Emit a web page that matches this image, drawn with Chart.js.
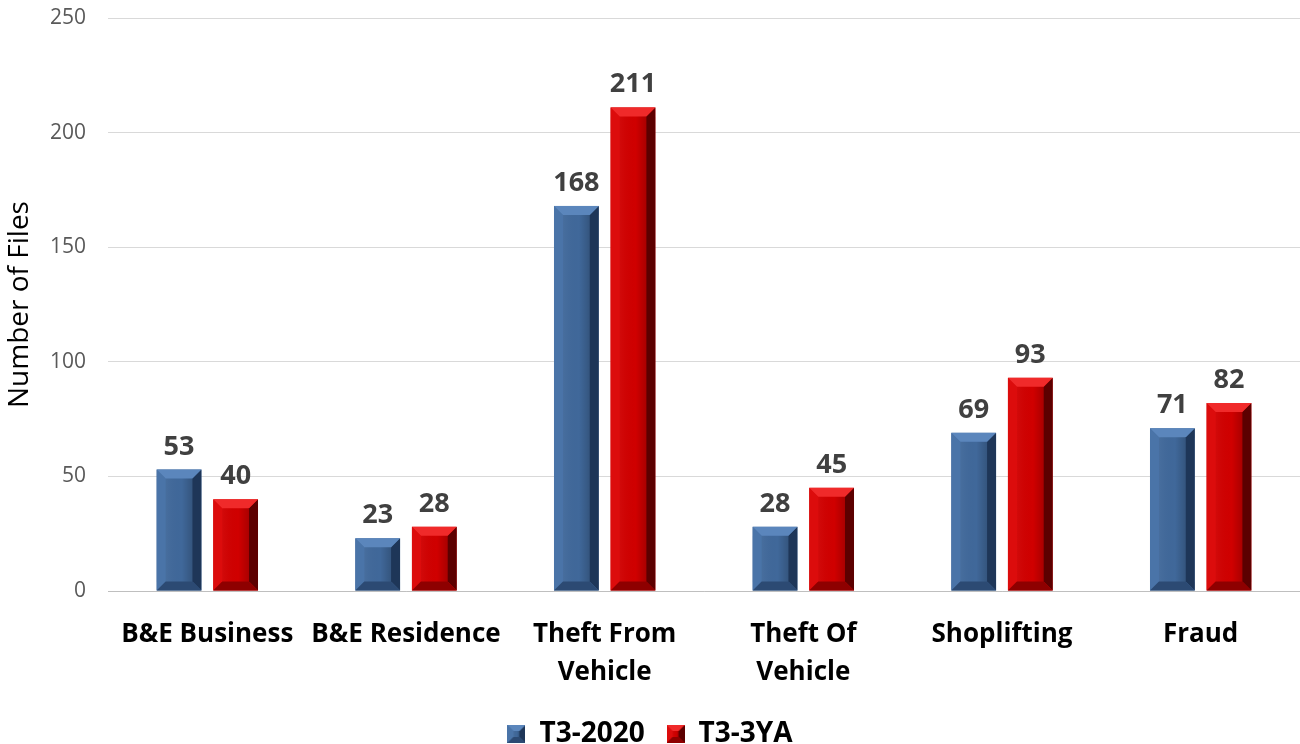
<!DOCTYPE html>
<html>
<head>
<meta charset="utf-8">
<script src="https://cdn.jsdelivr.net/npm/chart.js@4/dist/chart.umd.min.js"></script>
<style>
  html, body { margin: 0; padding: 0; background: #fff; }
  #wrap { width: 1300px; height: 744px; position: relative; }
</style>
</head>
<body>
<div id="wrap"><canvas id="chart"></canvas></div>
<script>
// ── data ─────────────────────────────────────────────
const categories = ['B&E Business', 'B&E Residence', ['Theft From', 'Vehicle'], ['Theft Of', 'Vehicle'], 'Shoplifting', 'Fraud'];
const t3_2020 = [53, 23, 168, 28, 69, 71];
const t3_3ya  = [40, 28, 211, 45, 93, 82];
const yTicks  = [0, 50, 100, 150, 200, 250];

const FONT = '"Open Sans", "Noto Sans", sans-serif';

// bevel palettes: base, top, left, right, bottom
const BLUE = { base: '#40689a', top: '#5b86bc', left: '#4a74a8', right: '#1e3658', bottom: '#2c4a73' };
const RED  = { base: '#d00000', top: '#f02a2a', left: '#dc0c0c', right: '#5c0000', bottom: '#8e0000' };

function bevelRect(ctx, x0, y0, x1, y1, pal, b) {
  const w = x1 - x0, h = y1 - y0;
  b = Math.min(b, w / 2, h / 2);
  ctx.fillStyle = pal.base;
  ctx.fillRect(x0, y0, w, h);
  const poly = (pts, c) => {
    ctx.beginPath();
    ctx.moveTo(pts[0][0], pts[0][1]);
    for (let i = 1; i < pts.length; i++) ctx.lineTo(pts[i][0], pts[i][1]);
    ctx.closePath();
    ctx.fillStyle = c; ctx.fill();
  };
  poly([[x0, y0], [x0 + b, y0 + b], [x0 + b, y1 - b], [x0, y1]], pal.left);
  poly([[x1, y0], [x1, y1], [x1 - b, y1 - b], [x1 - b, y0 + b]], pal.right);
  poly([[x0, y0], [x1, y0], [x1 - b, y0 + b], [x0 + b, y0 + b]], pal.top);
  poly([[x0, y1], [x0 + b, y1 - b], [x1 - b, y1 - b], [x1, y1]], pal.bottom);
  // soft darkening towards the right side of the face
  const g = ctx.createLinearGradient(x0 + b, 0, x1 - b, 0);
  g.addColorStop(0, 'rgba(255,255,255,0.04)');
  g.addColorStop(0.6, 'rgba(0,0,0,0)');
  g.addColorStop(1, 'rgba(0,0,0,0.18)');
  ctx.fillStyle = g;
  ctx.fillRect(x0 + b, y0 + b, w - 2 * b, h - 2 * b);
}

function legendIcon(pal) {
  const c = document.createElement('canvas');
  c.width = 18; c.height = 18;
  bevelRect(c.getContext('2d'), 0, 0, 18, 18, pal, 6);
  return c;
}

// draws bars with bevel + value labels on top
const bevelBars = {
  id: 'bevelBars',
  afterDatasetsDraw(chart) {
    const ctx = chart.ctx;
    ctx.save();
    chart.data.datasets.forEach((ds, di) => {
      const meta = chart.getDatasetMeta(di);
      const pal = di === 0 ? BLUE : RED;
      meta.data.forEach((bar, i) => {
        const p = bar.getProps(['x', 'y', 'base', 'width'], true);
        const x0 = p.x - p.width / 2, x1 = p.x + p.width / 2;
        bevelRect(ctx, x0, p.y, x1, p.base, pal, 9);
        ctx.fillStyle = '#404040';
        ctx.font = 'bold 27px ' + FONT;
        ctx.textAlign = 'center';
        ctx.textBaseline = 'alphabetic';
        ctx.fillText(ds.data[i], p.x, p.y - 15);
      });
    });
    ctx.restore();
  }
};

new Chart(document.getElementById('chart'), {
  type: 'bar',
  data: {
    labels: categories,
    datasets: [
      { label: 'T3-2020', data: t3_2020, backgroundColor: 'rgba(0,0,0,0)', pointStyle: legendIcon(BLUE) },
      { label: 'T3-3YA',  data: t3_3ya,  backgroundColor: 'rgba(0,0,0,0)', pointStyle: legendIcon(RED) }
    ]
  },
  options: {
    responsive: true,
    maintainAspectRatio: false,
    animation: false,
    categoryPercentage: 0.57,
    barPercentage: 0.79,
    layout: { padding: { top: 18, right: 0, left: 0, bottom: -14 } },
    plugins: {
      tooltip: { enabled: false },
      legend: {
        position: 'bottom',
        labels: {
          usePointStyle: true,
          color: '#000',
          font: { family: FONT, size: 28, weight: 'bold' },
          padding: 0,
          boxWidth: 18,
          generateLabels: chart => {
            const items = Chart.defaults.plugins.legend.labels.generateLabels(chart);
            items[0].text = items[0].text + '   ';   // gap between legend entries
            return items;
          }
        }
      }
    },
    scales: {
      x: {
        afterFit: axis => { axis.height = 129; },
        grid: { display: false, drawTicks: false },
        border: { display: true, color: '#bfbfbf', width: 1 },
        ticks: {
          color: '#000',
          font: { family: FONT, size: 26, weight: 'bold', lineHeight: 1.45 },
          padding: 25,
          maxRotation: 0,
          autoSkip: false
        }
      },
      y: {
        min: 0, max: 250,
        afterFit: axis => { axis.width = 108; },
        afterBuildTicks: axis => { axis.ticks = yTicks.map(v => ({ value: v })); },
        grid: { color: '#d9d9d9', drawTicks: true, tickLength: 18, tickColor: 'rgba(0,0,0,0)' },
        border: { display: false },
        ticks: {
          color: '#595959',
          font: { family: FONT, size: 21 },
          padding: 4
        },
        title: {
          display: true,
          text: 'Number of Files',
          color: '#000',
          font: { family: FONT, size: 28 },
          padding: { top: 3, bottom: 0 }
        }
      }
    }
  },
  plugins: [bevelBars]
});
</script>
</body>
</html>
